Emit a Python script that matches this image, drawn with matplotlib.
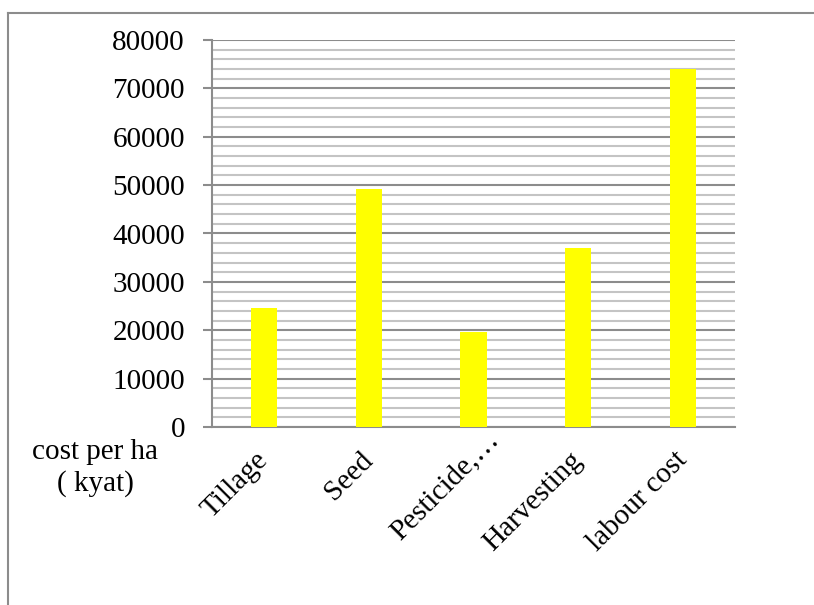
import matplotlib.pyplot as plt
import matplotlib.transforms as mtransforms
from matplotlib.lines import Line2D
from matplotlib.ticker import MultipleLocator
import numpy as np

categories = ["Tillage", "Seed", "Pesticide,\u2026", "Harvesting", "labour cost"]
cost_per_ha = [24600, 49300, 19700, 37000, 74100]

plt.rcParams["font.family"] = ["Liberation Serif", "DejaVu Serif"]
plt.rcParams["font.size"] = 21

fig = plt.figure(figsize=(8.14, 6.05), dpi=100)
W, H = 814, 605
left, right, top, bottom = 212, 735, 40, 427
ax = fig.add_axes([left / W, 1 - bottom / H, (right - left) / W, (bottom - top) / H])

x = np.arange(len(categories))
ax.bar(x, cost_per_ha, width=0.25, color="#FFFF00", zorder=3)

ax.set_xlim(-0.5, len(categories) - 0.5)
ax.set_ylim(0, 80000)
ax.yaxis.set_major_locator(MultipleLocator(10000))
ax.yaxis.set_minor_locator(MultipleLocator(2000))
ax.grid(which="major", axis="y", color="#8c8c8c", linewidth=1.5, zorder=1)
ax.grid(which="minor", axis="y", color="#c4c4c4", linewidth=1.5, zorder=1)
ax.set_axisbelow(True)

for side in ["top", "right"]:
    ax.spines[side].set_visible(False)
for side in ["left", "bottom"]:
    ax.spines[side].set_color("#8c8c8c")
    ax.spines[side].set_linewidth(1.5)

ax.tick_params(axis="y", which="major", length=6.5, width=1.5, color="#8c8c8c", pad=13)
ax.tick_params(axis="y", which="minor", length=0)
ax.tick_params(axis="x", length=0, pad=21)
ax.set_xticks(x)
ax.set_xticklabels(categories, rotation=45, ha="right", rotation_mode="anchor", va="center")

# the truncated label sits a bit further up along its slant in the original
lbl = ax.get_xticklabels()[2]
lbl.set_transform(lbl.get_transform()
                  + mtransforms.ScaledTranslation(0.22, 0.20, fig.dpi_scale_trans))

fig.text(95 / W, 1 - 468 / H, "cost per ha\n( kyat)", ha="center", va="center",
         fontsize=21, linespacing=1.2)

# outer chart frame (runs off the right and bottom edges)
fig.add_artist(Line2D([8 / W, 1.0], [1 - 13 / H, 1 - 13 / H], color="#8c8c8c", linewidth=1.5))
fig.add_artist(Line2D([8 / W, 8 / W], [0.0, 1 - 13 / H], color="#8c8c8c", linewidth=1.5))

fig.savefig("out.png", dpi=100)
